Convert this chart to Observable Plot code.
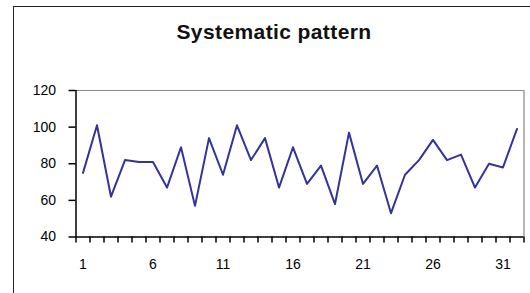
<!DOCTYPE html>
<html>
<head>
<meta charset="utf-8">
<script src="https://cdn.jsdelivr.net/npm/d3@7"></script>
<script src="https://cdn.jsdelivr.net/npm/@observablehq/plot@0.6"></script>
<style>
  html, body { margin: 0; padding: 0; background: #fff; }
  #chart { position: relative; width: 530px; height: 293px; overflow: hidden; background: #fff; }
  #border { position: absolute; left: 13px; top: 6px; width: 700px; height: 500px; border: 1.5px solid #222; box-sizing: border-box; }
  #title { position: absolute; top: 20px; left: 74px; width: 400px; text-align: center;
           font-family: Arial, "Liberation Sans", sans-serif; font-weight: bold; font-size: 21px;
           letter-spacing: 0.4px; color: #111; }
  #plot { position: absolute; left: 0; top: 0; }
</style>
</head>
<body>
<div id="chart">
  <div id="border"></div>
  <div id="title">Systematic pattern</div>
  <div id="plot"></div>
</div>
<script>
const periods = [1,2,3,4,5,6,7,8,9,10,11,12,13,14,15,16,17,18,19,20,21,22,23,24,25,26,27,28,29,30,31,32];
const values = [75,101,62,82,81,81,67,89,57,94,74,101,82,94,67,89,69,79,58,97,69,79,53,74,82,93,82,85,67,80,78,99];
const xTickLabels = [1,6,11,16,21,26,31];
const yTicks = [40,60,80,100,120];
const categoryEdges = [0.5,1.5,2.5,3.5,4.5,5.5,6.5,7.5,8.5,9.5,10.5,11.5,12.5,13.5,14.5,15.5,16.5,17.5,18.5,19.5,20.5,21.5,22.5,23.5,24.5,25.5,26.5,27.5,28.5,29.5,30.5,31.5,32.5];

const data = periods.map((p, i) => ({period: p, value: values[i]}));

const chart = Plot.plot({
  width: 530,
  height: 293,
  marginLeft: 75.5,
  marginRight: 6.5,
  marginTop: 90,
  marginBottom: 56.5,
  style: {fontFamily: "Arial, 'Liberation Sans', sans-serif", fontSize: "14px", color: "#000", background: "transparent"},
  x: {type: "linear", domain: [0.5, 32.5]},
  y: {domain: [40, 120]},
  marks: [
    Plot.ruleY([120], {stroke: "#888", strokeWidth: 1.2}),
    Plot.ruleX([32.5], {stroke: "#888", strokeWidth: 1.2}),
    Plot.axisY({ticks: yTicks, tickSize: 7, tickPadding: 13, label: null, stroke: "#000", strokeWidth: 1.5, strokeOpacity: 1}),
    Plot.axisX({ticks: categoryEdges, tickSize: 6, tickFormat: () => "", label: null, stroke: "#000", strokeWidth: 1.5, strokeOpacity: 1}),
    Plot.axisX({ticks: xTickLabels, tickSize: 0, tickPadding: 22, label: null, tickFormat: d => String(d)}),
    Plot.ruleX([0.5], {stroke: "#000", strokeWidth: 1.5}),
    Plot.ruleY([40], {stroke: "#000", strokeWidth: 1.5}),
    Plot.lineY(data, {x: "period", y: "value", stroke: "#333399", strokeWidth: 2})
  ]
});
document.getElementById("plot").appendChild(chart);
</script>
</body>
</html>
